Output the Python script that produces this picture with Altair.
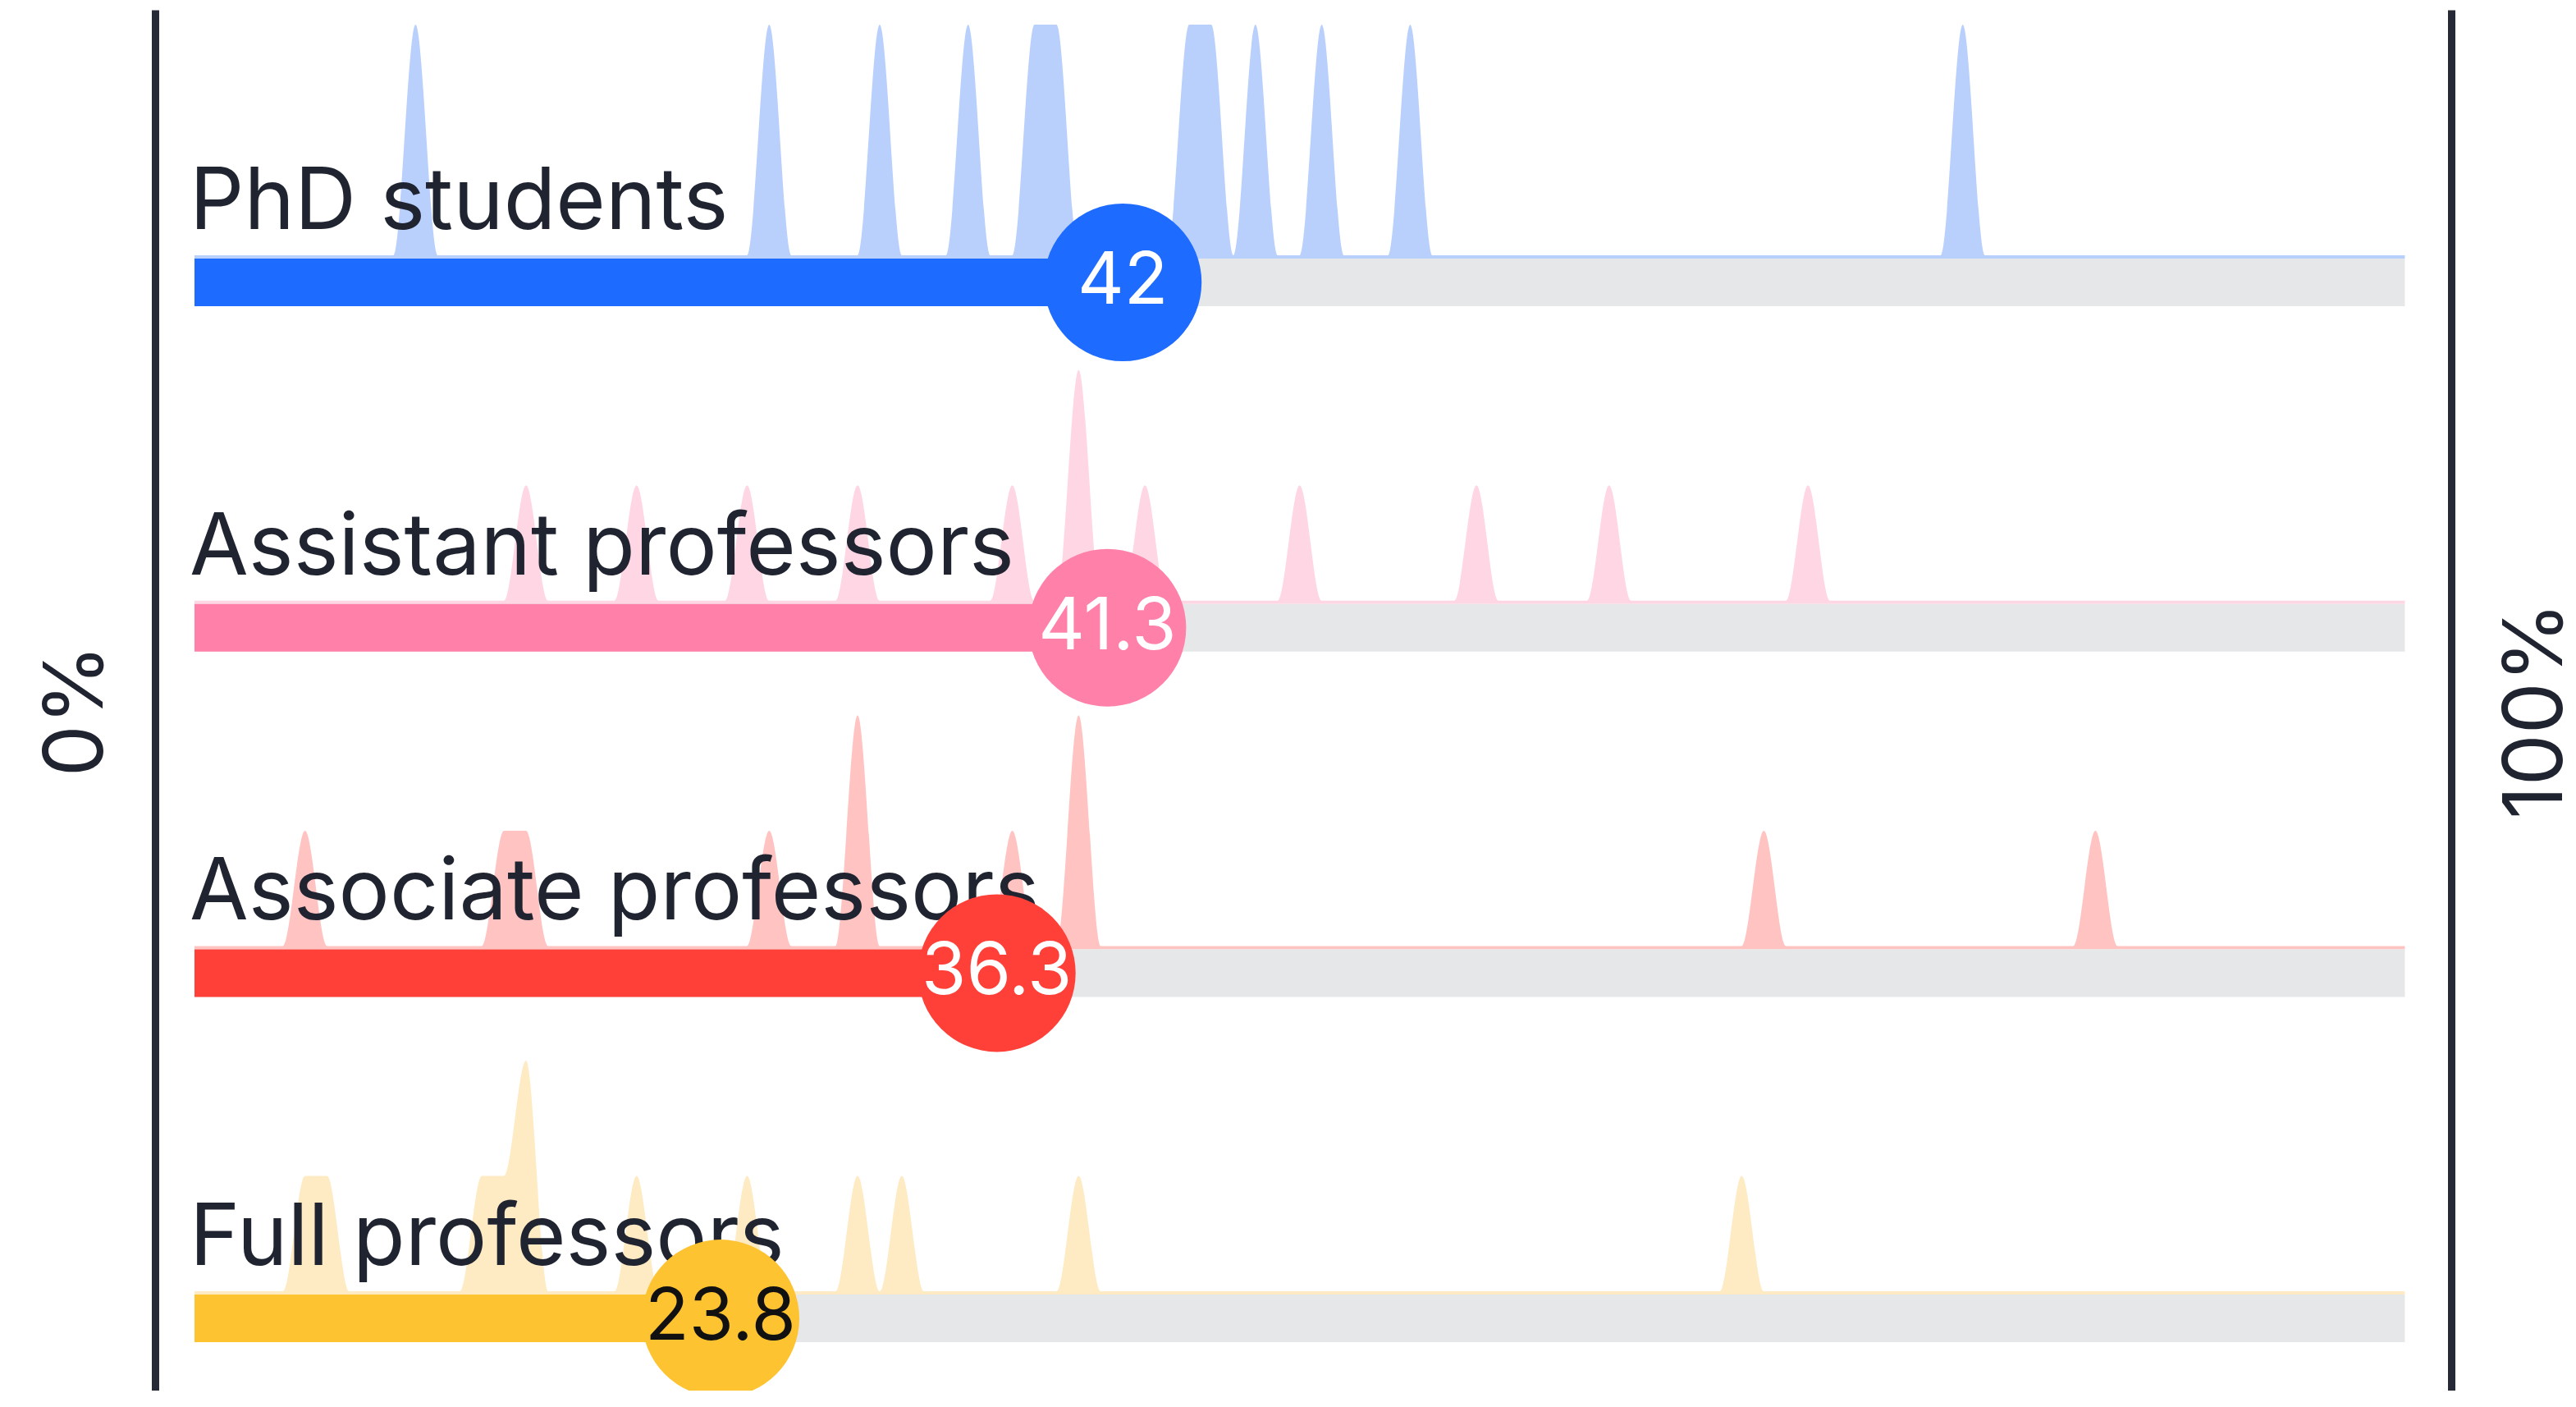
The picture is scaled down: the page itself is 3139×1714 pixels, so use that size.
import altair as alt
import pandas as pd

# ---- data ----
groups = ["PhD students", "Assistant professors", "Associate professors", "Full professors"]
averages = [42, 41.3, 36.3, 23.8]
phd_values = [10, 26, 31, 35, 38, 39, 45, 46, 48, 51, 55, 80]
assistant_values = [15, 20, 25, 30, 37, 40, 40, 43, 50, 58, 64, 73]
associate_values = [5, 14, 15, 26, 30, 30, 37, 40, 40, 71, 86]
full_values = [5, 6, 13, 14, 15, 15, 20, 25, 30, 32, 40, 70]

strong_colors = ["#1e6bff", "#ff80a9", "#ff4039", "#fec330"]
light_colors = ["#b9d0fc", "#ffd6e3", "#ffc3c2", "#feebc3"]

summary = pd.DataFrame({"group": groups, "idx": list(range(len(groups))), "value": averages})
all_values = [phd_values, assistant_values, associate_values, full_values]
# count of individual values falling on each whole percentage point (0..100)
bins = pd.DataFrame(
    [
        {"group": g, "idx": i, "v": p, "n": vals.count(p)}
        for i, (g, vals) in enumerate(zip(groups, all_values))
        for p in range(0, 101)
    ]
)

# ---- layout ----
W, H = 2798, 1682
ROW = 420.7  # pixels between rows
TEXT = "#1f2430"
LINE = "#262a36"
FONT = "Inter"

xscale = alt.Scale(domain=[-1.782, 102.10], nice=False, zero=False)
yscale = alt.Scale(domain=[-0.7892, 3.2089], nice=False, zero=False, reverse=True)

axis_common = dict(
    domain=True, domainColor=LINE, domainWidth=9, ticks=False, labels=False, grid=False,
    titleFont=FONT, titleFontSize=100, titleFontWeight="normal", titleColor=TEXT,
    titleAngle=270, titleBaseline="alphabetic", titleY=853,
)

light_scale = alt.Scale(domain=groups, range=light_colors)
strong_scale = alt.Scale(domain=groups, range=strong_colors)

base = alt.Chart(summary).transform_calculate(lo="0", hi="100")

# distribution ridges, scaled to each row's maximum count
area = (
    alt.Chart(bins)
    .transform_joinaggregate(maxn="max(n)", groupby=["group"])
    .transform_calculate(
        ybase=f"datum.idx - {29 / ROW}",
        ytop=f"datum.idx - {33 / ROW} - {281 / ROW} * datum.n / datum.maxn",
    )
    .mark_area(interpolate="monotone")
    .encode(
        x=alt.X("v:Q", scale=xscale, axis=None),
        y=alt.Y("ytop:Q", scale=yscale, axis=None),
        y2="ybase:Q",
        color=alt.Color("group:N", scale=light_scale, legend=None),
    )
)

track = base.mark_rule(strokeWidth=58, color="#e6e7e9").encode(
    x=alt.X("lo:Q", scale=xscale, axis=None),
    x2="hi:Q",
    y=alt.Y("idx:Q", scale=yscale, axis=alt.Axis(title="0%", orient="left", titlePadding=65, **axis_common)),
)

fill = base.mark_rule(strokeWidth=58).encode(
    x=alt.X("lo:Q", scale=xscale, axis=None),
    x2="value:Q",
    y=alt.Y("idx:Q", scale=yscale, axis=alt.Axis(title="100%", orient="right", titlePadding=134, **axis_common)),
    color=alt.Color("group:N", scale=strong_scale, legend=None),
)

labels = (
    base.transform_calculate(ly=f"datum.idx - {65 / ROW}")
    .mark_text(align="left", baseline="alphabetic", font=FONT, fontSize=104, color=TEXT, dx=-6)
    .encode(
        x=alt.X("lo:Q", scale=xscale, axis=None),
        y=alt.Y("ly:Q", scale=yscale, axis=None),
        text="group:N",
    )
)

circles = base.mark_circle(size=36864, opacity=1).encode(
    x=alt.X("value:Q", scale=xscale, axis=None),
    y=alt.Y("idx:Q", scale=yscale, axis=None),
    color=alt.Color("group:N", scale=strong_scale, legend=None),
)

numbers = base.mark_text(align="center", baseline="middle", font=FONT, fontSize=88).encode(
    x=alt.X("value:Q", scale=xscale, axis=None),
    y=alt.Y("idx:Q", scale=yscale, axis=None),
    text=alt.Text("value:Q", format=".3~r"),
    color=alt.condition(alt.datum.group == "Full professors", alt.value("#111111"), alt.value("#ffffff")),
)

chart = (
    alt.layer(area, track, fill, labels, circles, numbers)
    .resolve_scale(color="independent")
    .resolve_axis(y="independent")
    .properties(
        width=W, height=H,
        autosize=alt.AutoSizeParams(type="none"),
        padding={"left": 181, "top": 4, "right": 144, "bottom": 0},
        background="white",
    )
    .configure_view(strokeWidth=0)
)

chart.save("out.html", embed_options={"renderer": "svg", "actions": False})
